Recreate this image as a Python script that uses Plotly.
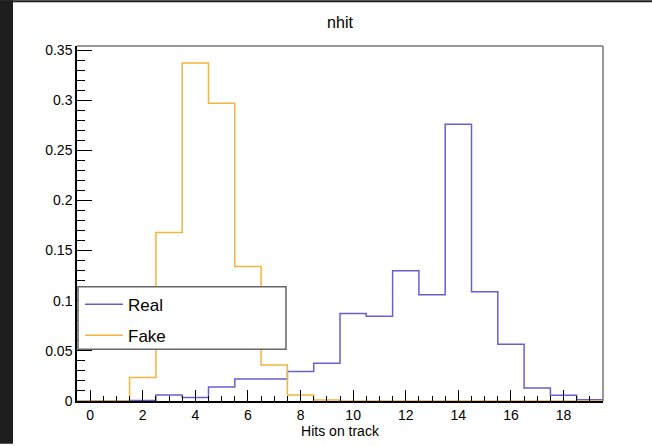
import plotly.graph_objects as go

# bin centres (Hits on track)
bin_centers = list(range(0, 20))
real_values = [0.0, 0.0, 0.0005, 0.006, 0.0035, 0.014, 0.022, 0.022, 0.0295, 0.0377,
               0.0873, 0.0846, 0.130, 0.106, 0.276, 0.109, 0.0565, 0.013, 0.0057, 0.0013]
fake_values = [0.0, 0.0, 0.0235, 0.168, 0.337, 0.297, 0.134, 0.036, 0.006, 0.001,
               0.0, 0.0, 0.0, 0.0, 0.0, 0.0, 0.0, 0.0, 0.0, 0.0]
x_tick_vals = [0, 2, 4, 6, 8, 10, 12, 14, 16, 18]
y_tick_vals = [0, 0.05, 0.1, 0.15, 0.2, 0.25, 0.3, 0.35]
y_tick_text = ["0", "0.05", "0.1", "0.15", "0.2", "0.25", "0.3", "0.35"]

edges = [c - 0.5 for c in bin_centers] + [bin_centers[-1] + 0.5]

def step(vals):
    return list(vals) + [0.0]

BLUE = "#6a5fc9"
ORANGE = "#f5b43c"
FONT = "Liberation Sans, Arial, Helvetica, sans-serif"

fig = go.Figure()
fig.add_trace(go.Scatter(x=edges, y=step(real_values), mode="lines", line_shape="hv",
                         line=dict(color=BLUE, width=1.5), name="Real", legendgroup="r"))
fig.add_trace(go.Scatter(x=edges, y=step(fake_values), mode="lines", line_shape="hv",
                         line=dict(color=ORANGE, width=1.5), name="Fake", legendgroup="f"))

L, R, T, B = 77, 49, 46, 43
W, H = 652, 446
pw, ph = W - L - R, H - T - B

def px2x(px):
    return (px - L) / pw

def px2y(py):
    return 1 - (py - T) / ph

shapes = [
    # dark strips of the surrounding window
    dict(type="rect", xref="paper", yref="paper", x0=px2x(0), x1=px2x(13), y0=px2y(H), y1=px2y(0),
         fillcolor="#1e1e1e", line=dict(width=0), layer="above"),
    dict(type="rect", xref="paper", yref="paper", x0=px2x(0), x1=px2x(W), y0=px2y(2), y1=px2y(0),
         fillcolor="#1e1e1e", line=dict(width=0), layer="above"),
    # frame top/right (gray)
    dict(type="line", xref="paper", yref="paper", x0=0, x1=1, y0=1, y1=1,
         line=dict(color="#777777", width=1.5)),
    dict(type="line", xref="paper", yref="paper", x0=1, x1=1, y0=0, y1=1,
         line=dict(color="#777777", width=1.5)),
    # legend box
    dict(type="rect", xref="paper", yref="paper", x0=px2x(78), x1=px2x(286), y0=px2y(351), y1=px2y(288),
         fillcolor="white", line=dict(color="#666666", width=1.5), layer="above"),
]

fig.update_layout(
    width=W, height=H,
    margin=dict(l=L, r=R, t=T, b=B),
    paper_bgcolor="white", plot_bgcolor="white",
    font=dict(family=FONT, color="black", size=14),
    title=dict(text="nhit", x=(340) / W, xanchor="center",
               y=1 - 22 / H, yanchor="middle", font=dict(size=16)),
    shapes=shapes,
    showlegend=True,
    legend=dict(x=px2x(80), y=px2y(288), xanchor="left", yanchor="top",
                bgcolor="rgba(0,0,0,0)", borderwidth=0, font=dict(size=17),
                tracegroupgap=6, itemwidth=38),
    xaxis=dict(range=[-0.5, 19.5], tickvals=x_tick_vals, ticks="inside", ticklen=11,
               tickcolor="black", showline=True, linecolor="black", linewidth=1.5,
               showgrid=False, zeroline=False,
               minor=dict(dtick=0.5, tick0=0, ticks="inside", ticklen=5, tickcolor="black"),
               title=dict(text="Hits on track", standoff=2, font=dict(size=14))),
    yaxis=dict(range=[0, 0.354], tickvals=y_tick_vals, ticktext=y_tick_text, ticks="inside",
               ticklen=15, tickcolor="black", showline=True, linecolor="black", linewidth=1.5,
               showgrid=False, zeroline=False,
               minor=dict(dtick=0.01, tick0=0, ticks="inside", ticklen=8, tickcolor="black")),
)

fig.write_html("out.html", config={"displayModeBar": False},
               post_script="document.body.style.margin='0';document.body.style.overflow='hidden';")
